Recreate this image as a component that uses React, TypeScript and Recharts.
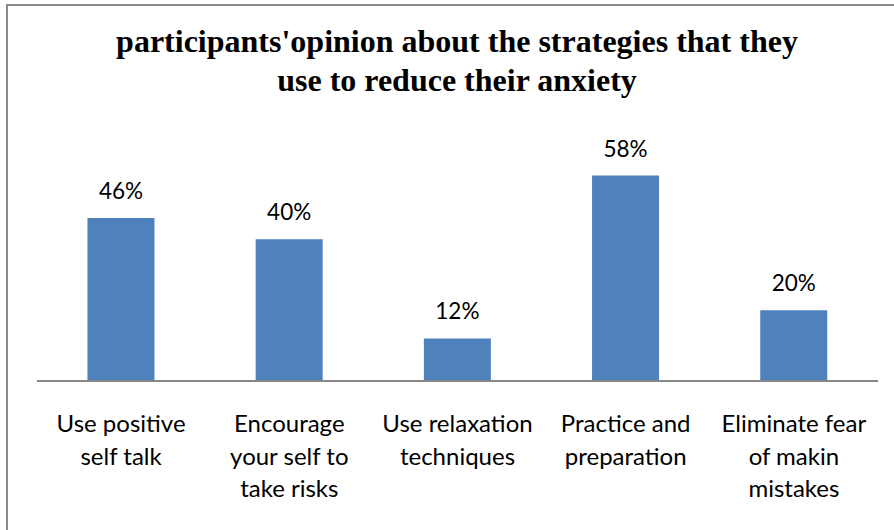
import React from "react";
import { BarChart, Bar, XAxis, YAxis, LabelList } from "recharts";

const categories: string[][] = [
  ["Use positive", "self talk"],
  ["Encourage", "your self to", "take risks"],
  ["Use relaxation", "techniques"],
  ["Practice and", "preparation"],
  ["Eliminate fear", "of makin", "mistakes"],
];
const percentages: number[] = [46, 40, 12, 58, 20];
const titleLines: string[] = [
  "participants'opinion about the strategies that they",
  "use to reduce their anxiety",
];

const data = categories.map((lines, i) => ({
  name: lines.join(" "),
  lines,
  value: percentages[i],
}));

const FONT = "Lato, 'Open Sans', sans-serif";

const Tick = (props: any) => {
  const { x, y, index } = props;
  const lines = categories[index] || [];
  return (
    <text
      x={x}
      y={y}
      textAnchor="middle"
      fontFamily={FONT}
      fontSize={24}
      fill="#000"
    >
      {lines.map((l, i) => (
        <tspan key={i} x={x} y={y + 51 + i * 32.5}>
          {l}
        </tspan>
      ))}
    </text>
  );
};

export default function App() {
  return (
    <div
      style={{
        position: "absolute",
        left: 0,
        top: 0,
        width: 894,
        height: 530,
        overflow: "hidden",
        background: "#fff",
      }}
    >
      <div
        style={{
          position: "absolute",
          left: 6,
          top: 4,
          width: 1000,
          height: 1000,
          border: "2px solid #8a8a8a",
          boxSizing: "border-box",
        }}
      />
      <div
        style={{
          position: "absolute",
          left: 0,
          top: 0,
          width: 914,
          textAlign: "center",
          fontFamily: "'Liberation Serif', 'Times New Roman', serif",
          fontWeight: "bold",
          fontSize: 32,
          color: "#000",
        }}
      >
        {titleLines.map((t, i) => (
          <div
            key={i}
            style={{
              position: "absolute",
              left: 0,
              width: 914,
              top: 26 + i * 39,
              lineHeight: "30px",
              whiteSpace: "nowrap",
            }}
          >
            {t}
          </div>
        ))}
      </div>
      <div style={{ position: "absolute", left: 0, top: 0 }}>
        <BarChart
          width={894}
          height={530}
          data={data}
          margin={{ top: 133, right: 16, bottom: 9, left: 37 }}
          barCategoryGap="30%"
        >
          <YAxis hide domain={[0, 70]} />
          <XAxis
            dataKey="name"
            height={140}
            axisLine={{ stroke: "#888888", strokeWidth: 2 }}
            tickLine={false}
            tickSize={0}
            tickMargin={0}
            interval={0}
            tick={<Tick />}
          />
          <Bar dataKey="value" fill="#4F81BD" isAnimationActive={false}>
            <LabelList
              dataKey="value"
              position="top"
              offset={19}
              formatter={(v: any) => `${v}%`}
              style={{ fontFamily: FONT, fontSize: 22.5, fill: "#000" }}
            />
          </Bar>
        </BarChart>
      </div>
    </div>
  );
}
